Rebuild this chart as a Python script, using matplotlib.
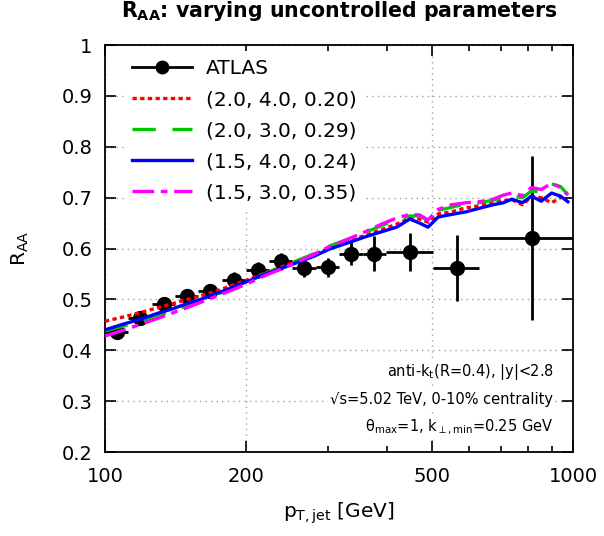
import numpy as np
import matplotlib
matplotlib.use("Agg")
import matplotlib.pyplot as plt
from matplotlib.lines import Line2D
from matplotlib.ticker import FixedLocator, NullFormatter

plt.rcParams['font.family'] = ['DejaVu Sans']
plt.rcParams['mathtext.default'] = 'regular'

# ATLAS points: bin edges and values
atlas_lo = [100, 112, 126, 141, 158, 178, 200, 224, 251, 282, 316, 355, 398, 501, 631]
atlas_hi = [112, 126, 141, 158, 178, 200, 224, 251, 282, 316, 355, 398, 501, 631, 1000]
atlas_y = [0.436, 0.463, 0.490, 0.507, 0.516, 0.538, 0.558, 0.575, 0.562, 0.563,
           0.590, 0.590, 0.593, 0.561, 0.621]
atlas_err = [0.012, 0.013, 0.013, 0.013, 0.014, 0.015, 0.016, 0.017, 0.018, 0.019,
             0.022, 0.035, 0.037, 0.065, 0.161]

# theory curves
pt = [100, 110, 120, 130, 140, 150, 160, 175, 190, 205, 220, 240, 260, 280, 300, 330,
      360, 390, 420, 448, 470, 490, 515, 550, 590, 630, 675, 710, 740, 780, 815, 855,
      900, 940, 975]
raa_red = [0.457, 0.466, 0.475, 0.484, 0.492, 0.500, 0.507, 0.518, 0.530, 0.541, 0.552,
           0.565, 0.577, 0.588, 0.600, 0.614, 0.626, 0.637, 0.648, 0.660, 0.658, 0.652,
           0.668, 0.672, 0.680, 0.684, 0.690, 0.694, 0.696, 0.686, 0.702, 0.700, 0.690,
           0.700, 0.710]
raa_green = [0.438, 0.448, 0.458, 0.468, 0.478, 0.488, 0.497, 0.511, 0.525, 0.538, 0.551,
             0.565, 0.578, 0.590, 0.604, 0.618, 0.632, 0.645, 0.657, 0.664, 0.664, 0.655,
             0.675, 0.681, 0.688, 0.690, 0.695, 0.700, 0.703, 0.700, 0.713, 0.712, 0.727,
             0.722, 0.706]
raa_blue = [0.440, 0.452, 0.462, 0.473, 0.482, 0.492, 0.500, 0.513, 0.526, 0.538, 0.550,
            0.562, 0.574, 0.585, 0.598, 0.611, 0.623, 0.633, 0.642, 0.658, 0.650, 0.642,
            0.662, 0.667, 0.672, 0.679, 0.686, 0.690, 0.697, 0.690, 0.703, 0.693, 0.709,
            0.703, 0.692]
raa_mag = [0.428, 0.440, 0.452, 0.463, 0.474, 0.484, 0.494, 0.508, 0.521, 0.534, 0.547,
           0.561, 0.575, 0.589, 0.603, 0.618, 0.633, 0.648, 0.660, 0.667, 0.666, 0.656,
           0.677, 0.686, 0.690, 0.692, 0.697, 0.705, 0.709, 0.704, 0.720, 0.716, 0.728,
           0.720, 0.705]

labels = ["(2.0, 4.0, 0.20)", "(2.0, 3.0, 0.29)", "(1.5, 4.0, 0.24)", "(1.5, 3.0, 0.35)"]

lo = np.array(atlas_lo, float)
hi = np.array(atlas_hi, float)
xc = (lo + hi) / 2

fig = plt.figure(figsize=(6.04, 5.36), dpi=100)
ax = fig.add_axes([0.1738, 0.1567, 0.7749, 0.7593])

ax.errorbar(xc, atlas_y, xerr=[xc - lo, hi - xc], yerr=atlas_err, fmt='o', color='black',
            ms=10, lw=2, capsize=0, zorder=3)
l1, = ax.plot(pt, raa_red, color='#ff0000', lw=2.4, ls=(0, (1.3, 1.0)), zorder=4)
l2, = ax.plot(pt, raa_green, color='#00c800', lw=2.4, ls=(0, (7, 5)), zorder=4)
l3, = ax.plot(pt, raa_blue, color='#0000ff', lw=2.4, ls='-', zorder=4)
l4, = ax.plot(pt, raa_mag, color='#ff00ff', lw=2.4, ls=(0, (6.5, 2, 2, 2)), zorder=4)
atlas_handle = Line2D([], [], color='black', lw=2, marker='o', ms=9)

ax.set_xscale('log')
ax.set_xlim(100, 1000)
ax.set_ylim(0.2, 1.0)
ax.xaxis.set_major_locator(FixedLocator([100, 200, 500, 1000]))
ax.set_xticklabels(["100", "200", "500", "1000"])
ax.xaxis.set_minor_locator(FixedLocator([300, 400, 600, 700, 800, 900]))
ax.xaxis.set_minor_formatter(NullFormatter())
yt = [0.2, 0.3, 0.4, 0.5, 0.6, 0.7, 0.8, 0.9, 1.0]
ax.set_yticks(yt)
ax.set_yticklabels(["0.2", "0.3", "0.4", "0.5", "0.6", "0.7", "0.8", "0.9", "1"])
ax.tick_params(which='both', direction='in', top=True, right=True, labelsize=14, width=1.2)
ax.tick_params(which='major', length=8)
ax.tick_params(which='minor', length=4)
ax.tick_params(axis='x', which='major', pad=11)
ax.tick_params(axis='y', which='major', pad=9)
ax.grid(True, which='major', color='#a0a0a0', ls=(0, (1, 3)), lw=1)
for s in ax.spines.values():
    s.set_linewidth(1.3)

ax.set_xlabel(r"p$_{T,jet}$ [GeV]", fontsize=14.5, labelpad=10)
ax.set_ylabel(r"R$_{AA}$", fontsize=14.5, labelpad=22)
ax.set_title(r"$\mathbf{R_{AA}}$: varying uncontrolled parameters", fontsize=14.8,
             fontweight='bold', pad=20)

leg = ax.legend([atlas_handle, l1, l2, l3, l4], ["ATLAS"] + labels, loc='upper left',
                bbox_to_anchor=(0.04, 0.985), borderaxespad=0, fontsize=14.5,
                handlelength=3.0, frameon=True, labelspacing=0.6, handletextpad=0.7)
leg.get_frame().set_edgecolor('none')
leg.get_frame().set_facecolor('white')
leg.get_frame().set_alpha(1)
leg.set_zorder(6)

txt = ["anti-k$_t$(R=0.4), |y|<2.8",
       "√s=5.02 TeV, 0-10% centrality",
       r"θ$_{max}$=1, k$_{\perp,min}$=0.25 GeV"]
for i, t in enumerate(txt):
    ax.text(0.958, 0.197 - i * 0.068, t, transform=ax.transAxes, ha='right', va='center',
            fontsize=10.5, zorder=5,
            bbox=dict(facecolor='white', edgecolor='none', pad=1.5))

fig.savefig("out.png", dpi=100)
